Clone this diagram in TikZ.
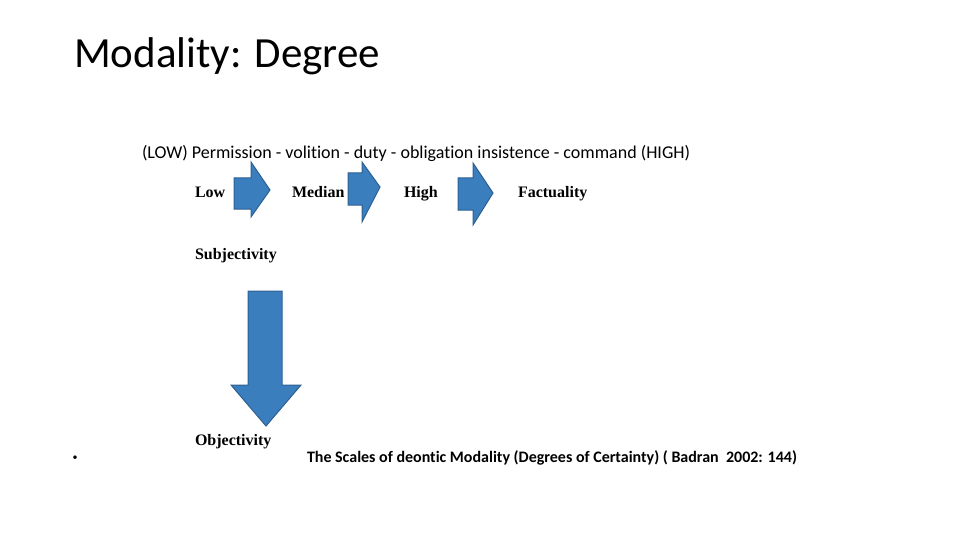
\documentclass[tikz,border=0pt]{standalone}
\usepackage{fontspec}
\setmainfont{Carlito}[Ligatures=NoCommon]
\newfontfamily\figfont{Liberation Serif}
\usepackage{tikz}
\usetikzlibrary{positioning}
\definecolor{arrowfill}{RGB}{58,126,190}
\definecolor{arrowline}{RGB}{44,96,146}

\begin{document}
\begin{tikzpicture}[x=1pt,y=-1pt,inner sep=0pt,outer sep=0pt,
  figlab/.style={anchor=base west,font=\figfont\fontsize{16}{16}\selectfont\bfseries},
  blockarrow/.style={fill=arrowfill,draw=arrowline,line width=1pt,line join=miter}]
\useasboundingbox (0,0) rectangle (960,540);
% slide text
\node[anchor=base west,font=\fontsize{43}{43}\selectfont] (title) at (74,68) {Modality: Degree};
\node[anchor=base west,font=\fontsize{18}{18}\selectfont] (scale) at (142,159)
  {(LOW) Permission - volition - duty - obligation insistence - command (HIGH)};
% figure labels
\node[figlab] (low) at (195,197) {Low};
\node[figlab] (median) at (292,197) {Median};
\node[figlab] (high) at (404,197) {High};
\node[figlab] (fact) at (518,197) {Factuality};
\node[figlab] (subj) at (195,259) {Subjectivity};
\node[figlab] (obj) at (195,445) {Objectivity};
% block arrows
\filldraw[blockarrow] (234,178) -- (251,178) -- (251,162) -- (270,190) -- (251,217) -- (251,209) -- (234,209) -- cycle;
\filldraw[blockarrow] (348,173) -- (362,173) -- (362,162) -- (380,187) -- (362,222) -- (362,205) -- (348,205) -- cycle;
\filldraw[blockarrow] (458,178) -- (473,178) -- (473,163) -- (493,193) -- (473,225) -- (473,210) -- (458,210) -- cycle;
\filldraw[blockarrow] (248,291) -- (282,291) -- (282,385) -- (301,385) -- (266,426) -- (231,385) -- (248,385) -- cycle;
% bullet and caption
\node[anchor=base,font=\fontsize{10}{10}\selectfont] (dot) at (75,460) {•};
\node[anchor=base west,font=\fontsize{16}{16}\selectfont\bfseries] (caption) at (307,462)
  {The Scales of deontic Modality (Degrees of Certainty) ( Badran\ \ 2002: 144)};
\end{tikzpicture}
\end{document}
